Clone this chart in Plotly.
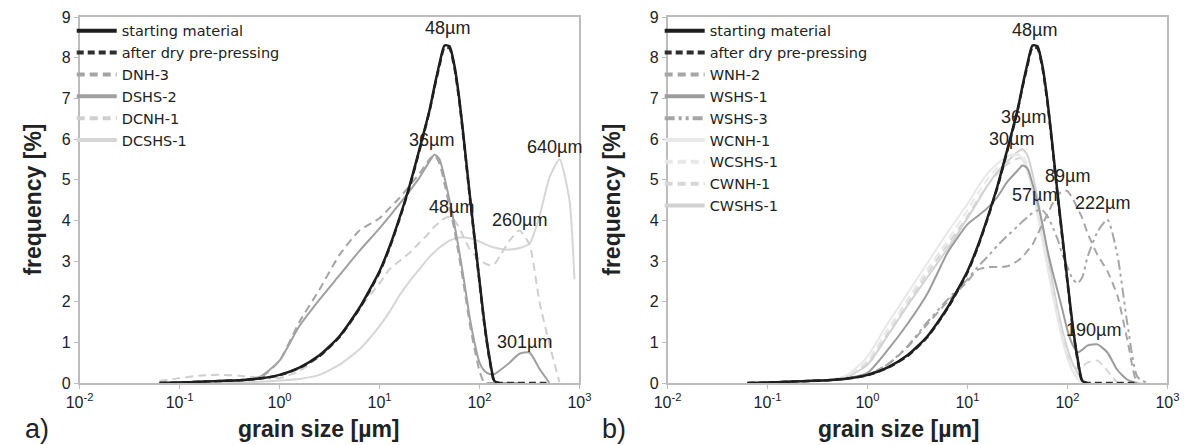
import math
import plotly.graph_objects as go

# ---------------- data ----------------
grain_size_um = [0.063, 0.1, 0.158, 0.251, 0.398, 0.631, 1.0, 1.58, 2.51, 3.98,
                 6.31, 10.0, 12.6, 15.8, 20.0, 25.1, 31.6, 35.5, 39.8, 44.7,
                 50.1, 56.2, 63.1, 70.8, 79.4, 89.1, 100, 112, 126, 141,
                 158, 200, 251, 316, 398, 501, 631, 794, 891]
N = None

starting_material = [0.0, 0.01, 0.03, 0.05, 0.07, 0.11, 0.2, 0.38, 0.68, 1.15,
                     1.85, 2.75, 3.35, 4.05, 4.85, 5.75, 6.7, 7.3, 7.85, 8.3,
                     8.28, 7.8, 6.95, 5.85, 4.7, 3.6, 2.52, 1.48, 0.62, 0.05,
                     0.0, N, N, N, N, N, N, N, N]
after_dry_pre_pressing = [0.0, 0.01, 0.03, 0.05, 0.07, 0.11, 0.19, 0.37, 0.66, 1.13,
                          1.83, 2.72, 3.32, 4.02, 4.82, 5.72, 6.68, 7.27, 7.8, 8.25,
                          8.23, 7.75, 6.9, 5.8, 4.65, 3.55, 2.48, 1.43, 0.58, 0.03,
                          0.0, 0.0, 0.0, 0.0, 0.0, 0.0, N, N, N]

# panel a)
dnh_3 = [0.0, 0.01, 0.03, 0.05, 0.07, 0.12, 0.55, 1.5, 2.3, 3.15,
         3.75, 4.05, 4.3, 4.55, 4.85, 5.15, 5.5, 5.6, 5.4, 4.9,
         4.35, 3.75, 3.05, 2.3, 1.5, 0.85, 0.3, 0.0, 0.0, 0.0,
         0.0, 0.0, 0.0, N, N, N, N, N, N]
dshs_2 = [0.0, 0.01, 0.03, 0.05, 0.07, 0.15, 0.55, 1.4, 2.05, 2.65,
          3.25, 3.8, 4.1, 4.4, 4.72, 5.05, 5.45, 5.62, 5.5, 5.05,
          4.5, 3.9, 3.2, 2.45, 1.65, 1.0, 0.5, 0.3, 0.22, 0.22,
          0.3, 0.5, 0.72, 0.75, 0.35, 0.0, N, N, N]
dcnh_1 = [0.05, 0.12, 0.18, 0.2, 0.18, 0.13, 0.12, 0.3, 0.65, 1.15,
          1.85, 2.45, 2.8, 3.0, 3.2, 3.45, 3.7, 3.85, 3.95, 4.05,
          4.08, 4.0, 3.8, 3.55, 3.3, 3.15, 3.05, 2.95, 2.9, 2.92,
          3.1, 3.5, 3.75, 3.4, 2.0, 0.95, 0.02, N, N]
dcshs_1 = [N, N, N, 0.0, 0.01, 0.03, 0.06, 0.1, 0.2, 0.45,
           0.83, 1.4, 1.75, 2.15, 2.5, 2.8, 3.1, 3.22, 3.33, 3.42,
           3.5, 3.55, 3.58, 3.58, 3.56, 3.53, 3.48, 3.42, 3.37, 3.33,
           3.3, 3.28, 3.32, 3.42, 4.1, 5.05, 5.5, 4.5, 2.55]

# panel b)
wnh_2 = [0.0, 0.01, 0.03, 0.05, 0.07, 0.1, 0.2, 0.45, 0.88, 1.45,
         2.0, 2.5, 2.78, 2.85, 2.85, 2.87, 3.0, 3.1, 3.25, 3.4,
         3.65, 3.9, 4.15, 4.4, 4.6, 4.73, 4.72, 4.55, 4.3, 4.05,
         3.7, 3.15, 2.75, 2.15, 1.05, 0.0, 0.0, N, N]
wshs_1 = [0.0, 0.01, 0.03, 0.05, 0.07, 0.12, 0.25, 0.8, 1.45, 2.2,
          3.2, 3.9, 4.1, 4.3, 4.58, 4.95, 5.22, 5.35, 5.28, 4.9,
          4.45, 3.9, 3.27, 2.75, 2.28, 1.8, 1.3, 0.95, 0.75, 0.82,
          0.92, 0.95, 0.75, 0.32, 0.08, 0.0, N, N, N]
wshs_3 = [0.0, 0.01, 0.03, 0.05, 0.07, 0.1, 0.2, 0.45, 0.9, 1.5,
          2.05, 2.55, 2.85, 3.1, 3.38, 3.62, 3.85, 3.97, 4.08, 4.18,
          4.24, 4.25, 4.1, 3.85, 3.55, 3.15, 2.85, 2.57, 2.45, 2.6,
          3.08, 3.72, 4.02, 3.15, 1.45, 0.15, 0.0, N, N]
wcnh_1 = [0.0, 0.01, 0.02, 0.04, 0.07, 0.2, 0.65, 1.45, 2.2, 2.95,
          3.7, 4.4, 4.8, 5.15, 5.4, 5.58, 5.62, 5.5, 5.2, 4.75,
          4.15, 3.5, 2.85, 2.2, 1.6, 1.05, 0.6, 0.3, 0.1, 0.0,
          0.0, N, N, N, N, N, N, N, N]
wcshs_1 = [0.0, 0.01, 0.02, 0.04, 0.06, 0.18, 0.55, 1.3, 2.05, 2.8,
           3.5, 4.25, 4.65, 5.0, 5.3, 5.5, 5.62, 5.6, 5.35, 4.9,
           4.3, 3.65, 2.95, 2.3, 1.7, 1.15, 0.7, 0.35, 0.12, 0.0,
           0.0, N, N, N, N, N, N, N, N]
cwnh_1 = [0.0, 0.01, 0.02, 0.04, 0.06, 0.15, 0.5, 1.2, 1.95, 2.7,
          3.4, 4.1, 4.5, 4.85, 5.15, 5.38, 5.52, 5.5, 5.25, 4.8,
          4.2, 3.55, 2.9, 2.25, 1.65, 1.1, 0.7, 0.45, 0.35, 0.4,
          0.5, 0.55, 0.3, 0.0, N, N, N, N, N]
cwshs_1 = [0.0, 0.01, 0.02, 0.04, 0.06, 0.15, 0.45, 1.15, 1.9, 2.6,
           3.3, 4.05, 4.45, 4.85, 5.2, 5.45, 5.68, 5.75, 5.6, 5.15,
           4.55, 3.9, 3.2, 2.5, 1.85, 1.3, 0.85, 0.5, 0.25, 0.08,
           0.0, N, N, N, N, N, N, N, N]

tick_values = [0.01, 0.1, 1, 10, 100, 1000]
tick_labels = ["10<sup>-2</sup>", "10<sup>-1</sup>", "10<sup>0</sup>",
               "10<sup>1</sup>", "10<sup>2</sup>", "10<sup>3</sup>"]

peak_labels_a = ["48µm", "36µm", "48µm", "260µm", "640µm", "301µm"]
peak_x_a = [48, 33, 52, 251, 569, 282]
peak_y_a = [8.72, 5.97, 4.33, 4.0, 5.8, 1.0]
peak_labels_b = ["48µm", "36µm", "30µm", "89µm", "57µm", "222µm", "190µm"]
peak_x_b = [46.8, 36.3, 27.5, 100, 46.8, 224, 182]
peak_y_b = [8.67, 6.54, 6.0, 5.1, 4.62, 4.43, 1.3]

# ---------------- figure ----------------
W, H = 1198, 445
FONT = "Liberation Sans, Arial, Helvetica, sans-serif"
LEG_FONT = "DejaVu Sans, Liberation Sans, sans-serif"
TXT = "#222222"
AX = "#bcbcbc"

fig = go.Figure()

DASH = "8px,5px"
DASH_BLACK = "7px,4px"
DASH_DOT_DOT = "10px,4px,3px,4px,3px,4px"

series_a = [
    ("starting material", starting_material, "#1e1e1e", "solid", 2.5),
    ("after dry pre-pressing", after_dry_pre_pressing, "#2e2e2e", DASH_BLACK, 2.5),
    ("DNH-3", dnh_3, "#a4a4a4", DASH, 2.0),
    ("DSHS-2", dshs_2, "#a0a0a0", "solid", 2.0),
    ("DCNH-1", dcnh_1, "#cfcfcf", DASH, 2.0),
    ("DCSHS-1", dcshs_1, "#d6d6d6", "solid", 2.0),
]
series_b = [
    ("starting material", starting_material, "#1e1e1e", "solid", 2.5),
    ("after dry pre-pressing", after_dry_pre_pressing, "#2e2e2e", DASH_BLACK, 2.5),
    ("WNH-2", wnh_2, "#a6a6a6", DASH, 2.0),
    ("WSHS-1", wshs_1, "#9c9c9c", "solid", 2.0),
    ("WSHS-3", wshs_3, "#a6a6a6", DASH_DOT_DOT, 2.0),
    ("WCNH-1", wcnh_1, "#e8e8e8", "solid", 2.0),
    ("WCSHS-1", wcshs_1, "#e8e8e8", DASH, 2.0),
    ("CWNH-1", cwnh_1, "#d6d6d6", DASH, 2.0),
    ("CWSHS-1", cwshs_1, "#d2d2d2", "solid", 2.0),
]

for series, xa, ya, lg in [(series_a, "x", "y", "legend"), (series_b, "x2", "y2", "legend2")]:
    # curves (light ones drawn first so the dark ones are on top)
    for name, vals, color, dash, width in reversed(series):
        fig.add_trace(go.Scatter(
            x=grain_size_um, y=vals, name=name, mode="lines", showlegend=False,
            line=dict(color=color, dash=dash, width=width, shape="spline", smoothing=0.6),
            xaxis=xa, yaxis=ya, connectgaps=False, hoverinfo="skip"))
    # legend keys (thicker line samples as in the original)
    for name, vals, color, dash, width in series:
        fig.add_trace(go.Scatter(
            x=[None], y=[None], name=name, mode="lines", showlegend=True,
            line=dict(color=color, dash=dash, width=4),
            xaxis=xa, yaxis=ya, legend=lg, hoverinfo="skip"))

axis_common = dict(showline=True, linecolor=AX, linewidth=1.5, mirror=True,
                   ticks="outside", ticklen=4, tickcolor=AX, showgrid=False,
                   zeroline=False, tickfont=dict(family=FONT, size=16, color=TXT))
xdom_a = [67 / W, 578 / W]
xdom_b = [668 / W, 1179 / W]

leg_common = dict(xanchor="left", yanchor="top", bgcolor="rgba(0,0,0,0)",
                  traceorder="normal", itemwidth=40,
                  font=dict(family=LEG_FONT, size=14.5, color=TXT))

fig.update_layout(
    width=W, height=H,
    margin=dict(l=0, r=0, t=17, b=62),
    paper_bgcolor="white", plot_bgcolor="white",
    font=dict(family=FONT, color=TXT),
    xaxis=dict(type="log", range=[-2, 3], domain=xdom_a, anchor="y",
               tickvals=tick_values, ticktext=tick_labels, **axis_common),
    yaxis=dict(range=[0, 9], tickvals=list(range(10)), anchor="x", **axis_common),
    xaxis2=dict(type="log", range=[-2, 3], domain=xdom_b, anchor="y2",
                tickvals=tick_values, ticktext=tick_labels, **axis_common),
    yaxis2=dict(range=[0, 9], tickvals=list(range(10)), anchor="x2", **axis_common),
    legend=dict(x=59 / W, y=1.006, **leg_common),
    legend2=dict(x=660 / W, y=1.006, **leg_common),
    showlegend=True,
)

ann = []
for labels, xs, ys, xr, yr in [(peak_labels_a, peak_x_a, peak_y_a, "x", "y"),
                               (peak_labels_b, peak_x_b, peak_y_b, "x2", "y2")]:
    for t, xv, yv in zip(labels, xs, ys):
        ann.append(dict(text=t, x=math.log10(xv), y=yv, xref=xr, yref=yr,
                        showarrow=False, font=dict(family=FONT, size=18, color=TXT)))

for title_x, ylab_x, panel, panel_x in [(312 / W, 19 / W, "a)", 24 / W),
                                        (905 / W, 611 / W, "b)", 613 / W)]:
    ann.append(dict(text="<b>grain size [µm]</b>", x=title_x, y=0,
                    xref="paper", yref="paper", yshift=-46, showarrow=False,
                    xanchor="center", yanchor="middle",
                    font=dict(family=FONT, size=23, color=TXT)))
    ann.append(dict(text="<b>frequency [%]</b>", x=ylab_x, y=0.5, xref="paper", yref="paper",
                    textangle=-90, showarrow=False, xanchor="center", yanchor="middle",
                    font=dict(family=FONT, size=23, color=TXT)))
    ann.append(dict(text=panel, x=panel_x, y=0, xref="paper", yref="paper", yshift=-46,
                    showarrow=False, xanchor="center", yanchor="middle",
                    font=dict(family=FONT, size=27, color=TXT)))

fig.update_layout(annotations=ann)

fig.write_html("out.html", config={"displayModeBar": False},
               post_script="document.body.style.margin='0';")
